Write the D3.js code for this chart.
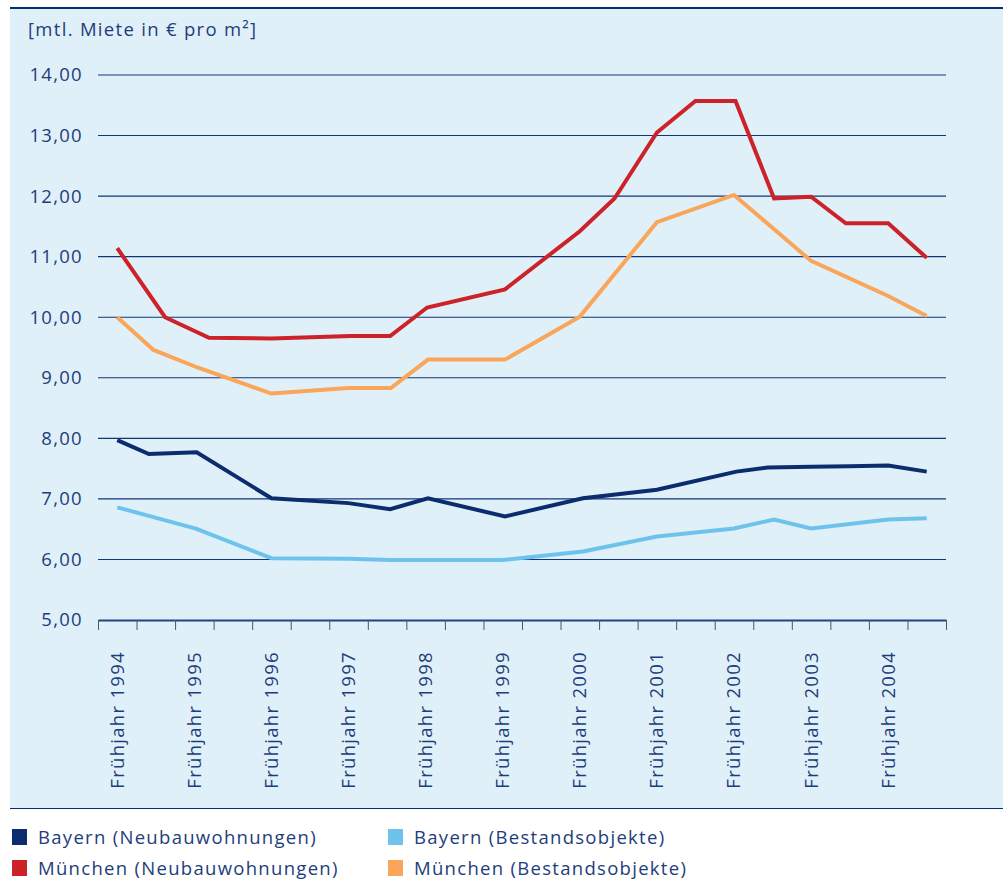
<!DOCTYPE html>
<html><head><meta charset="utf-8">
<script src="https://cdn.jsdelivr.net/npm/d3@7"></script>
<style>
body{margin:0;background:#fff;}
svg{display:block;font-family:"Open Sans",sans-serif;}
</style></head>
<body><svg id="c" width="1003" height="883"></svg>
<script>
// ---- data ----
const yearLabels = [1994,1995,1996,1997,1998,1999,2000,2001,2002,2003,2004];
const yTicks = [5,6,7,8,9,10,11,12,13,14];
const seriesNames = ["Bayern (Neubauwohnungen)","München (Neubauwohnungen)","Bayern (Bestandsobjekte)","München (Bestandsobjekte)"];
const seriesColors = ["#0b2d6e","#cc2229","#6ec3ec","#f9a65a"];

const bayernNeuX = [1994,1994.41,1995.03,1996,1997,1997.54,1998.03,1999.03,2000.04,2001,2002.03,2002.44,2003,2003.5,2004,2004.5];
const bayernNeuY = [7.97,7.74,7.77,7.01,6.93,6.83,7.01,6.71,7.01,7.15,7.45,7.52,7.53,7.54,7.55,7.45];

const muenchenNeuX = [1994,1994.62,1995.19,1996,1997.03,1997.54,1998.02,1999.03,2000,2000.45,2001,2001.5,2002.02,2002.52,2003,2003.45,2004,2004.5];
const muenchenNeuY = [11.14,10.0,9.66,9.65,9.69,9.69,10.16,10.46,11.42,11.96,13.05,13.57,13.57,11.96,11.99,11.55,11.55,10.98];

const bayernBestX = [1994,1995.02,1996,1997,1997.54,1998,1999,2000.04,2001,2002,2002.52,2003,2004,2004.5];
const bayernBestY = [6.86,6.51,6.02,6.01,5.99,5.99,5.99,6.13,6.38,6.51,6.66,6.51,6.66,6.68];

const muenchenBestX = [1994,1994.47,1995.04,1996,1997,1997.55,1998.03,1999.03,2000,2001,2002,2003,2004,2004.5];
const muenchenBestY = [10.0,9.46,9.17,8.74,8.83,8.83,9.30,9.30,10.01,11.57,12.02,10.93,10.35,10.02];

const seriesX = [bayernNeuX, muenchenNeuX, bayernBestX, muenchenBestX];
const seriesY = [bayernNeuY, muenchenNeuY, bayernBestY, muenchenBestY];
// draw order: Bestand first, then Neubau
const drawOrder = [2,3,0,1];

// ---- chart ----
const svg = d3.select("#c");
const textCol = "#1e3d7b";
const fs = "18.5px", ls = "1.3px";

svg.append("rect").attr("x",10).attr("y",7).attr("width",993).attr("height",801).attr("fill","#e0f0f9");
svg.append("line").attr("x1",10).attr("x2",1003).attr("y1",8).attr("y2",8).attr("stroke","#0a2e6d").attr("stroke-width",2);
svg.append("line").attr("x1",10).attr("x2",1003).attr("y1",808.5).attr("y2",808.5).attr("stroke","#0a2e6d").attr("stroke-width",1);

const x = d3.scaleLinear().domain([1993.75,2004.75]).range([98,946]);
const y = d3.scaleLinear().domain([5,14]).range([620,75]);

// gridlines
svg.append("g").selectAll("line").data(yTicks.slice(1)).join("line")
  .attr("x1",98).attr("x2",946).attr("y1",d=>y(d)).attr("y2",d=>y(d))
  .attr("stroke","#12357a").attr("stroke-width",1.1);

// y labels
const yAxis = svg.append("g").attr("transform","translate(83,0)")
  .call(d3.axisLeft(y).tickValues(yTicks).tickSize(0).tickPadding(0)
    .tickFormat(d=>d3.format(".2f")(d).replace(".",",")));
yAxis.select(".domain").remove();
yAxis.selectAll("text").attr("fill",textCol).style("font-size",fs).style("letter-spacing",ls).style("font-family","Open Sans");

svg.append("text").attr("x",28).attr("y",36).attr("fill",textCol)
  .style("font-size",fs).style("letter-spacing",ls).text("[mtl. Miete in € pro m²]");

// x axis ticks
const tickVals = d3.range(0,23).map(i=>1993.75+0.5*i);
const xAxis = svg.append("g").attr("transform","translate(0,620)")
  .call(d3.axisBottom(x).tickValues(tickVals).tickSize(10).tickSizeOuter(0).tickFormat(""));
xAxis.select(".domain").attr("stroke","#1f4587").attr("stroke-width",2);
xAxis.selectAll(".tick line").attr("stroke","#555").attr("stroke-width",1);

// x labels (rotated)
svg.append("g").selectAll("text").data(yearLabels).join("text")
  .attr("transform",d=>`translate(${x(d)},651) rotate(-90)`)
  .attr("text-anchor","end").attr("dy","0.35em")
  .attr("fill",textCol).style("font-size",fs).style("letter-spacing",ls)
  .text(d=>"Frühjahr "+d);

// lines
const line = d3.line().x(d=>x(d[0])).y(d=>y(d[1]));
drawOrder.forEach(i=>{
  const pts = seriesX[i].map((v,j)=>[v,seriesY[i][j]]);
  svg.append("path").datum(pts).attr("d",line)
    .attr("fill","none").attr("stroke",seriesColors[i]).attr("stroke-width",4)
    .attr("stroke-linejoin","miter");
});

// legend
const legPos = [[12,829],[12,860],[388,829],[388,860]];
seriesNames.forEach((n,i)=>{
  const g = svg.append("g").attr("transform",`translate(${legPos[i][0]},${legPos[i][1]})`);
  g.append("rect").attr("width",15).attr("height",16).attr("fill",seriesColors[i]);
  g.append("text").attr("x",26).attr("y",15).attr("fill",textCol).style("font-size",fs).style("letter-spacing",ls).text(n);
});
</script></body></html>
